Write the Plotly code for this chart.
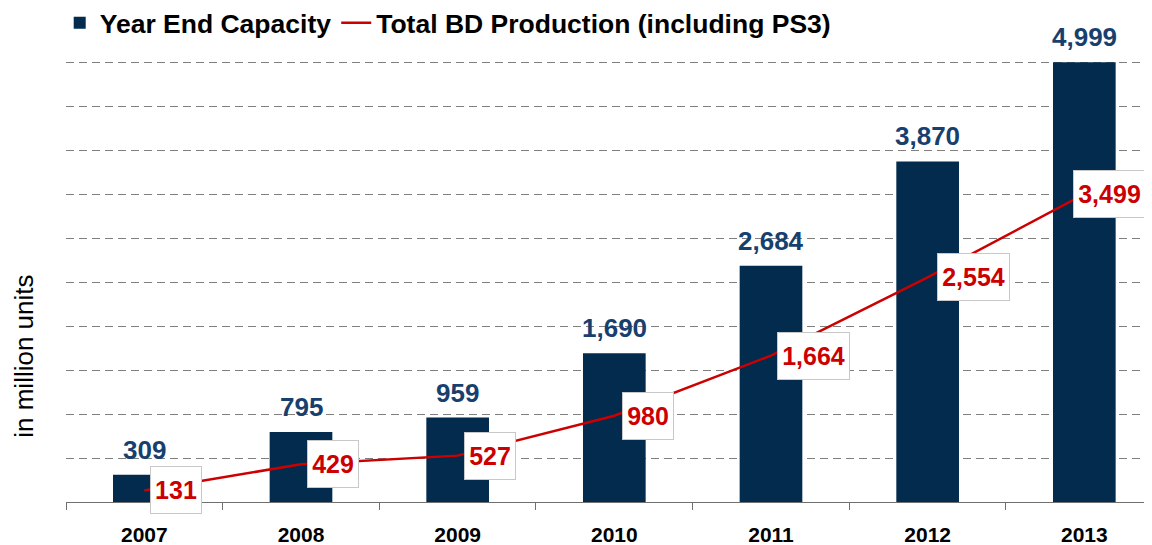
import plotly.graph_objects as go

years = ["2007", "2008", "2009", "2010", "2011", "2012", "2013"]
capacity = [309, 795, 959, 1690, 2684, 3870, 4999]
production = [131, 429, 527, 980, 1664, 2554, 3499]

cap_name = "Year End Capacity"
prod_name = "Total BD Production (including PS3)"
y_title = "in million units"

# label layout (offsets in px, not data)
prod_label_xshift = [6, 6, 6, 8, 6, 9, -11]

BAR_COLOR = "#022b4d"
BAR_LABEL_COLOR = "#17406e"
RED = "#cc0000"
FONT = "Liberation Sans, Arial, sans-serif"

fig = go.Figure()
fig.add_trace(go.Bar(
    x=years, y=capacity, name=cap_name, width=0.4,
    marker=dict(color=BAR_COLOR, line=dict(width=0)),
))
fig.add_trace(go.Scatter(
    x=years, y=production, name=prod_name, mode="lines",
    line=dict(color=RED, width=2.5),
))

annotations = []
for i, v in enumerate(capacity):
    annotations.append(dict(
        x=i, y=v, xref="x", yref="y", text=f"<b>{v:,}</b>", showarrow=False,
        xanchor="center", yanchor="middle", yshift=25,
        font=dict(family=FONT, size=26, color=BAR_LABEL_COLOR),
    ))
for i, (v, xs) in enumerate(zip(production, prod_label_xshift)):
    txt = f"{v:,}"
    annotations.append(dict(
        x=i, y=v, xref="x", yref="y", text=f"<b>{txt}</b>", showarrow=False,
        xanchor="left", yanchor="middle", xshift=xs,
        width=42 if len(txt) <= 3 else 63, height=38, borderpad=4,
        bgcolor="white", bordercolor="#c8c8c8", borderwidth=1,
        font=dict(family=FONT, size=25, color=RED),
    ))
annotations.append(dict(
    x=-0.0384, y=0.33, xref="paper", yref="paper", text=y_title,
    showarrow=False, textangle=-90, xanchor="center", yanchor="middle",
    font=dict(family=FONT, size=26, color="#000000"),
))

fig.update_layout(
    width=1144, height=537,
    margin=dict(l=58, r=0, t=53, b=43),
    paper_bgcolor="white", plot_bgcolor="white",
    font=dict(family=FONT, color="#000000"),
    showlegend=True,
    legend=dict(
        orientation="h", xref="container", x=0.0452, xanchor="left",
        yref="container", y=0.972, yanchor="middle",
        font=dict(family=FONT, size=26.5, color="#000000", weight="bold"),
        bgcolor="rgba(0,0,0,0)", borderwidth=0,
    ),
    annotations=annotations,
    bargap=0.6,
)
fig.update_xaxes(
    type="category", range=[-0.5, 6.432],
    showline=True, linecolor="#707070", linewidth=1,
    ticks="outside", tickson="boundaries", ticklen=7, tickcolor="#707070", tickwidth=1,
    showgrid=False, zeroline=False, ticklabelstandoff=14,
    tickfont=dict(family=FONT, size=21, color="#000000", weight="bold"),
)
fig.update_yaxes(
    range=[0, 5012], tick0=0, dtick=500, showticklabels=False, showline=False,
    showgrid=True, gridcolor="#808080", gridwidth=1, griddash="8px,5px",
    zeroline=False, ticks="",
)

fig.write_html("out.html")
